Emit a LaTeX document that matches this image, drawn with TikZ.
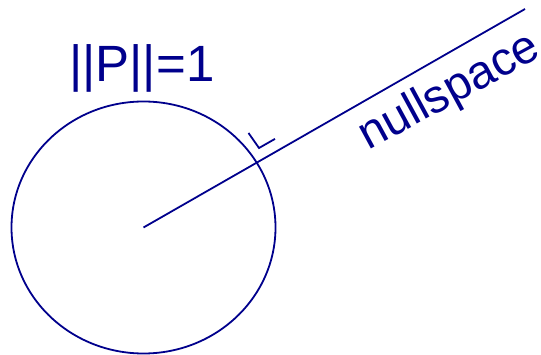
\documentclass[tikz,border=0pt]{standalone}
\usepackage{fontspec}
\setmainfont{Liberation Sans}
\usetikzlibrary{calc}
\definecolor{navyink}{RGB}{0,0,140}
\begin{document}
\begin{tikzpicture}[x=1pt,y=-1pt,
  ink/.style={draw=navyink,line width=1.8pt},
  lbl/.style={text=navyink,inner sep=0pt}]
\useasboundingbox (0,0) rectangle (541,355);
\coordinate (O) at (143.5,227.5);
\coordinate (E) at (525,9);
\draw[ink] (O) ellipse [x radius=132, y radius=126];
\draw[ink] (O) -- (E);
\coordinate (K) at (259,148);
\draw[ink] ($(K)+(-10.5,-15)$) -- (K) -- ($(K)+(16,-9.1)$);
\node[lbl,anchor=base west,font=\fontsize{51}{51}\selectfont] (norm) at (69,82) {||P||=1};
\node[lbl,anchor=base west,rotate=28.5,font=\fontsize{47}{47}\selectfont] (ns) at (368,151) {nullspace};
\end{tikzpicture}
\end{document}
